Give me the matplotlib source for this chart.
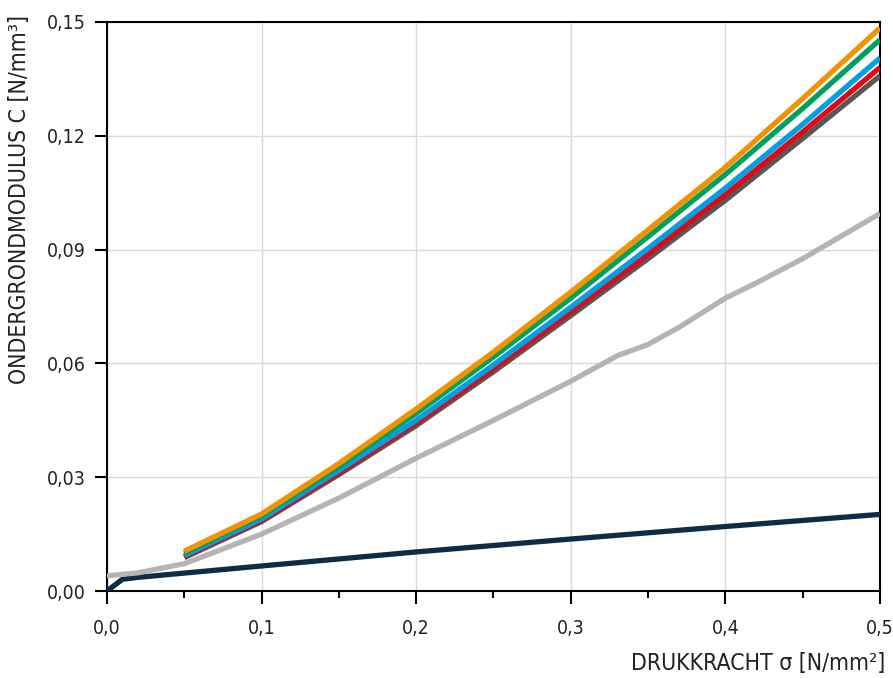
import matplotlib.pyplot as plt
from matplotlib.ticker import FuncFormatter, MultipleLocator

plt.rcParams['font.family'] = ['DejaVu Sans']

# colored series (start at 0.05)
x_col = [0.05, 0.1, 0.15, 0.2, 0.25, 0.3, 0.35, 0.4, 0.45, 0.5]
dark = [0.0088, 0.0183, 0.0307, 0.0436, 0.0578, 0.0726, 0.0876, 0.1030, 0.1193, 0.1358]
red = [0.0091, 0.0186, 0.0312, 0.0443, 0.0586, 0.0736, 0.0888, 0.1045, 0.1210, 0.1380]
blue = [0.0094, 0.0190, 0.0318, 0.0450, 0.0596, 0.0748, 0.0903, 0.1062, 0.1230, 0.1405]
green = [0.0100, 0.0198, 0.0328, 0.0468, 0.0617, 0.0772, 0.0934, 0.1098, 0.1272, 0.1453]
orange = [0.0105, 0.0203, 0.0336, 0.0480, 0.0630, 0.0788, 0.0952, 0.1117, 0.1298, 0.1484]

# light grey series
x_grey = [0, 0.02, 0.05, 0.1, 0.15, 0.2, 0.25, 0.3, 0.33, 0.35, 0.37, 0.4, 0.42, 0.45, 0.5]
grey = [0.0040, 0.0048, 0.0072, 0.0150, 0.0245, 0.0350, 0.0450, 0.0553, 0.0620, 0.0650,
        0.0695, 0.0772, 0.0812, 0.0876, 0.0995]

# navy series
x_navy = [0, 0.01, 0.02, 0.1, 0.2, 0.3, 0.4, 0.5]
navy = [0.0, 0.0031, 0.0036, 0.0066, 0.0103, 0.0137, 0.0170, 0.0202]

fig = plt.figure(figsize=(8.93, 6.78), dpi=100)
ax = fig.add_axes([0.1198, 0.1283, 0.8656, 0.8393])

lw = 3.8
ax.plot(x_navy, navy, color='#0D2C45', lw=lw, solid_capstyle='butt', zorder=3)
ax.plot(x_grey, grey, color='#B4B4B4', lw=lw, solid_capstyle='butt', zorder=3)
ax.plot(x_col, dark, color='#575756', lw=lw, solid_capstyle='butt', zorder=3)
ax.plot(x_col, red, color='#E30613', lw=lw, solid_capstyle='butt', zorder=3)
ax.plot(x_col, blue, color='#009FE3', lw=lw, solid_capstyle='butt', zorder=3)
ax.plot(x_col, green, color='#00A060', lw=lw, solid_capstyle='butt', zorder=3)
ax.plot(x_col, orange, color='#F39200', lw=lw, solid_capstyle='butt', zorder=3)

ax.set_xlim(0, 0.5)
ax.set_ylim(0, 0.15)
ax.xaxis.set_major_locator(MultipleLocator(0.1))
ax.xaxis.set_minor_locator(MultipleLocator(0.05))
ax.yaxis.set_major_locator(MultipleLocator(0.03))
ax.xaxis.set_major_formatter(FuncFormatter(lambda v, p: f'{v:.1f}'.replace('.', ',')))
ax.yaxis.set_major_formatter(FuncFormatter(lambda v, p: f'{v:.2f}'.replace('.', ',')))

ax.grid(True, which='major', color='#DADADA', lw=1)
ax.set_axisbelow(True)
for s in ax.spines.values():
    s.set_linewidth(1.5)
    s.set_color('black')

ax.tick_params(which='major', direction='out', length=9, width=1.5, labelsize=14,
               colors='black', labelcolor='#222222', pad=11)
ax.tick_params(which='minor', direction='out', length=5, width=1.5)
ax.tick_params(axis='y', pad=6)
for lab in ax.get_xticklabels() + ax.get_yticklabels():
    lab.set_fontstretch('condensed')

fig.text(0.022, 0.978, 'ONDERGRONDMODULUS C [N/mm³]', fontsize=16.5, color='#222222',
         rotation=90, ha='center', va='top', fontstretch='condensed')
fig.text(0.991, 0.004, 'DRUKKRACHT σ [N/mm²]', fontsize=16.5, color='#222222',
         ha='right', va='bottom', fontstretch='condensed')

fig.savefig('out.png', dpi=100)
